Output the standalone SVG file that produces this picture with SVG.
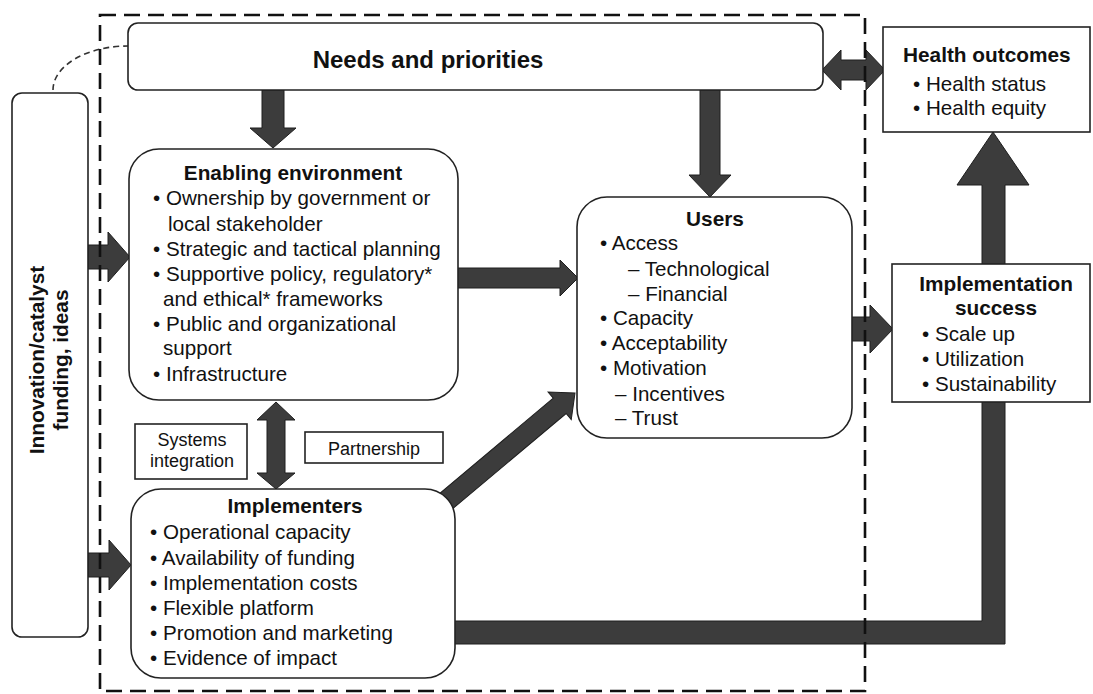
<svg xmlns="http://www.w3.org/2000/svg" width="1093" height="694" viewBox="0 0 1093 694">
<style>
text{font-family:"Liberation Sans",Arial,sans-serif;fill:#111;}
.h{font-weight:bold;font-size:20.8px;}
.b{font-size:20.6px;}
.s{font-size:18px;}
.box{fill:#fff;stroke:#222;stroke-width:1.6;}
.arr{fill:#3c3c3c;stroke:#1e1e1e;stroke-width:1;}
.dash{fill:none;stroke:#111;stroke-width:2.6;stroke-dasharray:16 8;}
.curve{fill:none;stroke:#333;stroke-width:1.6;stroke-dasharray:6 4;}
</style>
<rect width="1093" height="694" fill="#fff"/>
<g id="connectors">
<path class="curve" d="M53,90 A75,44 0 0 1 128,46"/>
<polygon class="arr" points="262,90 284,90 284,128 296,128 273,148 250,128 262,128"/>
<polygon class="arr" points="700,90 720,90 720,175 731,175 710,197 689,175 700,175"/>
<polygon class="arr" points="88,245 108,245 108,232 130,257 108,282 108,269 88,269"/>
<polygon class="arr" points="88,553 109,553 109,540 131,565 109,590 109,577 88,577"/>
<polygon class="arr" points="455,268 560,268 560,260 578,278 560,296 560,288 455,288"/>
<polygon class="arr" points="850,317 870,317 870,305 893,329 870,353 870,341 850,341"/>
<polygon class="arr" points="276,402 295,420 285,420 285,473 295,473 276,489 257,473 267,473 267,420 257,420"/>
<polygon class="arr" points="822,70 841,50 841,60 866,60 866,50 885,70 866,90 866,80 841,80 841,90"/>
<polygon class="arr" transform="translate(575,393) rotate(-40)" points="0,0 -20,-18 -20,-10 -175,-10 -175,10 -20,10 -20,18"/>
<polygon class="arr" points="440,621 982,621 982,185 957,185 993,132 1029,185 1005,185 1005,644 440,644"/>
</g>
<g id="innovation">
<rect class="box" x="12" y="93" width="76" height="544" rx="10"/>
<text class="h" text-anchor="middle" transform="translate(44,360) rotate(-90)">Innovation/catalyst</text>
<text class="h" text-anchor="middle" transform="translate(68,360) rotate(-90)">funding, ideas</text>
</g>
<g id="needs">
<rect class="box" x="128" y="23" width="695" height="67" rx="10"/>
<text class="h" x="428" y="68" text-anchor="middle" style="font-size:24px">Needs and priorities</text>
</g>
<g id="enabling">
<rect class="box" x="129" y="149" width="329" height="251" rx="30"/>
<text class="h" x="293" y="180" text-anchor="middle">Enabling environment</text>
<text class="b" x="153" y="205">• Ownership by government or</text>
<text class="b" x="168" y="231">local stakeholder</text>
<text class="b" x="153" y="256">• Strategic and tactical planning</text>
<text class="b" x="153" y="281">• Supportive policy, regulatory*</text>
<text class="b" x="163" y="306">and ethical* frameworks</text>
<text class="b" x="153" y="331">• Public and organizational</text>
<text class="b" x="163" y="355">support</text>
<text class="b" x="153" y="381">• Infrastructure</text>
</g>
<g id="systems">
<rect class="box" x="135" y="424" width="112" height="55"/>
<text class="s" x="192" y="446" text-anchor="middle">Systems</text>
<text class="s" x="192" y="467" text-anchor="middle">integration</text>
</g>
<g id="partnership">
<rect class="box" x="305" y="432" width="138" height="31"/>
<text class="s" x="374" y="455" text-anchor="middle">Partnership</text>
</g>
<g id="implementers">
<rect class="box" x="131" y="489" width="324" height="189" rx="30"/>
<text class="h" x="295" y="513" text-anchor="middle">Implementers</text>
<text class="b" x="150" y="539">• Operational capacity</text>
<text class="b" x="150" y="565">• Availability of funding</text>
<text class="b" x="150" y="590">• Implementation costs</text>
<text class="b" x="150" y="615">• Flexible platform</text>
<text class="b" x="150" y="640">• Promotion and marketing</text>
<text class="b" x="150" y="665">• Evidence of impact</text>
</g>
<g id="users">
<rect class="box" x="577" y="197" width="275" height="241" rx="30"/>
<text class="h" x="715" y="226" text-anchor="middle">Users</text>
<text class="b" x="600" y="250">• Access</text>
<text class="b" x="628" y="276">– Technological</text>
<text class="b" x="628" y="301">– Financial</text>
<text class="b" x="600" y="325">• Capacity</text>
<text class="b" x="600" y="350">• Acceptability</text>
<text class="b" x="600" y="375">• Motivation</text>
<text class="b" x="615" y="401">– Incentives</text>
<text class="b" x="615" y="425">– Trust</text>
</g>
<g id="health">
<rect class="box" x="883" y="27" width="207" height="105"/>
<text class="h" x="903" y="62">Health outcomes</text>
<text class="b" x="913" y="91">• Health status</text>
<text class="b" x="913" y="115">• Health equity</text>
</g>
<g id="success">
<rect class="box" x="892" y="264" width="198" height="138"/>
<text class="h" x="996" y="291" text-anchor="middle">Implementation</text>
<text class="h" x="996" y="315" text-anchor="middle">success</text>
<text class="b" x="922" y="341">• Scale up</text>
<text class="b" x="922" y="366">• Utilization</text>
<text class="b" x="922" y="391">• Sustainability</text>
</g>
<g id="boundary">
<rect class="dash" x="100" y="15" width="765" height="676"/>
</g>
</svg>
